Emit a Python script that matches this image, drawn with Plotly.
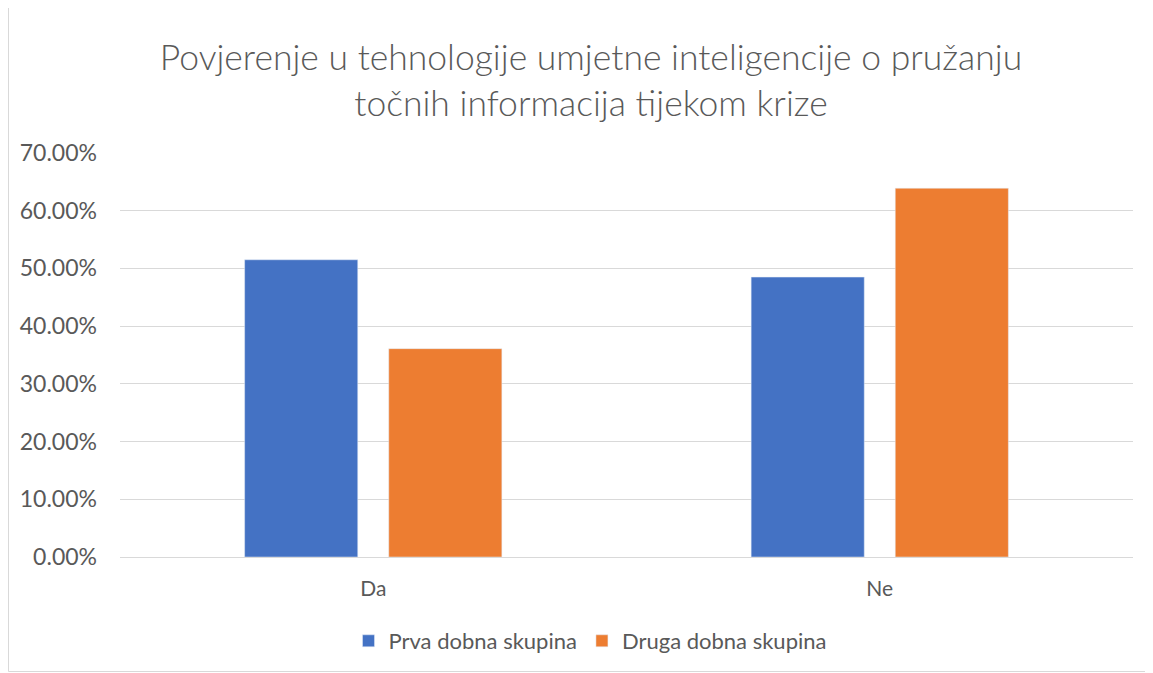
import plotly.graph_objects as go

categories = ["Da", "Ne"]
prva = [0.515, 0.485]
druga = [0.361, 0.639]
series_names = ["Prva dobna skupina", "Druga dobna skupina"]
colors = ["#4472C4", "#ED7D31"]
title_text = "Povjerenje u tehnologije umjetne inteligencije o pružanju<br>točnih informacija tijekom krize"

FONT = "Lato"
GRAY = "#595959"

fig = go.Figure()
fig.add_trace(go.Bar(x=categories, y=prva, name=series_names[0], marker=dict(color=colors[0])))
fig.add_trace(go.Bar(x=categories, y=druga, name=series_names[1], marker=dict(color=colors[1])))

W, H = 1153, 673
OFF = 8  # page offset of the figure in the screenshot
# plot area in screen pixels
SX0, SX1, SY0, SY1 = 120, 1133, 153, 557
L, T = SX0 - OFF, SY0 - OFF
R, B = W - (SX1 - OFF), H - (SY1 - OFF)
pw, ph = W - L - R, H - T - B

def px_x(x):
    return (x - OFF - L) / pw

def px_y(y):
    return (H - B - (y - OFF)) / ph

fig.update_layout(
    width=W, height=H,
    margin=dict(l=L, r=R, t=T, b=B),
    paper_bgcolor="white", plot_bgcolor="white",
    font=dict(family=FONT, color=GRAY, size=21),
    title=dict(text=title_text, x=(591 - OFF) / W, xanchor="center",
               y=1 - (70 - OFF) / H, yanchor="middle",
               font=dict(family=FONT, size=35.5, color=GRAY, weight=300)),
    barmode="group", bargap=0.431, bargroupgap=0.215,
    showlegend=True,
    legend=dict(orientation="h", x=px_x(590), xanchor="center", y=px_y(641), yanchor="middle",
                font=dict(size=22, color=GRAY), traceorder="normal", itemwidth=30),
    xaxis=dict(showgrid=False, showline=True, linecolor="#D9D9D9", linewidth=1,
               tickfont=dict(size=21, color=GRAY), ticks="", ticklabelstandoff=13),
    yaxis=dict(range=[0, 0.7], dtick=0.1, tickformat=".2%", showgrid=True,
               gridcolor="#D9D9D9", gridwidth=1, zeroline=False, showline=False,
               tickfont=dict(size=23, color=GRAY), ticks="", ticklabelstandoff=22),
    shapes=[dict(type="rect", xref="paper", yref="paper",
                 x0=px_x(8.5), x1=px_x(1149.5), y0=px_y(671.5), y1=px_y(7.5),
                 line=dict(color="#D9D9D9", width=1), fillcolor="rgba(0,0,0,0)", layer="below")],
)

fig.write_html("out.html")
